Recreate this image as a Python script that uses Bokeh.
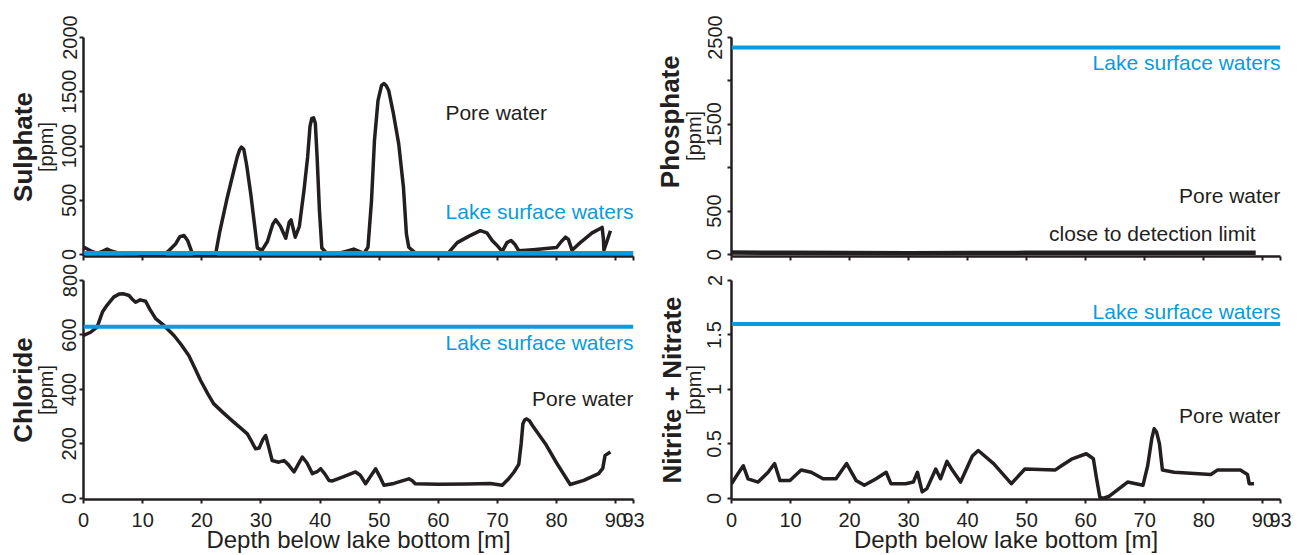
from bokeh.plotting import figure
from bokeh.models import Range1d, FixedTicker, LinearAxis, Span, Label, CustomJSTickFormatter
from bokeh.layouts import row, column
from bokeh.embed import file_html
from bokeh.resources import INLINE

FONT = "Liberation Sans"
INK = "#231f20"
BLUE = "#0a9bdc"

# ---------------- data ----------------
X_TICKS = [0, 10, 20, 30, 40, 50, 60, 70, 80, 90, 93]
X_LIMITS = [0, 93]

sulphate_depth = [0, 1.2, 2.3, 3.2, 4.0, 4.8, 6, 9, 10.5, 12, 13.5, 14.5, 15.6, 16.3, 17.0, 17.6,
                  18.4, 19.5, 21, 22.3, 23.0, 24.2, 25.4, 26.0, 26.4, 26.7, 27.1, 27.6, 28.3, 29.4,
                  30.2, 31.1, 32.0, 32.5, 33.3, 34.2, 34.8, 35.1, 35.8, 36.5, 37.3, 37.9, 38.3,
                  38.6, 38.9, 39.2, 39.5, 39.9, 40.3, 41, 43, 44.5, 45.7, 46.6, 47.4, 48.1, 48.7,
                  49.2, 49.8, 50.4, 50.8, 51.2, 51.6, 52.4, 53.3, 54.1, 54.6, 55.0, 56, 60, 61.7,
                  63.2, 65.2, 67.1, 68.2, 69.1, 70.0, 70.8, 71.6, 72.3, 73.0, 73.6, 76, 80, 80.8,
                  81.5, 82.0, 82.6, 84, 86, 87.7, 87.9, 88.0, 88.5, 89.1]
sulphate_ppm = [70, 35, 10, 30, 50, 30, 12, 10, -5, -10, -8, 40, 100, 165, 175, 130,
                10, -10, -12, -8, 200, 500, 770, 900, 965, 990, 970, 820, 550, 60,
                40, 120, 280, 320, 260, 150, 300, 320, 160, 260, 600, 900, 1180,
                1255, 1260, 1210, 900, 400, 60, 20, 10, 30, 50, 30, 10, 67, 498,
                1051, 1420, 1558, 1575, 1555, 1512, 1300, 1020, 620, 190, 67, 20, 15, 15,
                110, 170, 220, 200, 130, 80, 30, 110, 130, 90, 35, 45, 65, 120,
                160, 140, 40, 110, 200, 250, 150, 40, 120, 220]

chloride_depth = [0, 1.2, 2.3, 3.2, 4.0, 5.1, 6.0, 6.8, 7.7, 8.3, 8.8, 9.6, 10.5, 11.2, 12.2, 13.6,
                  15.3, 16.5, 17.8, 18.8, 19.8, 21.0, 22.0, 23.6, 25.4, 26.5, 27.7, 28.4, 29.1, 29.7,
                  30.3, 30.8, 31.3, 31.9, 33.0, 33.9, 34.6, 35.6, 36.3, 37.0, 37.8, 38.7, 39.5, 40.1,
                  40.8, 41.5, 42.1, 44, 46, 46.8, 47.7, 48.5, 49.4, 50.1, 50.8, 52.5, 55, 55.6, 56.1,
                  60, 65, 68.8, 70.8, 71.8, 72.8, 73.6, 74.0, 74.3, 74.6, 74.9, 75.4, 76.0, 78.1,
                  80.0, 82.3, 84.6, 87.1, 87.8, 88.0, 88.2, 89.1]
chloride_ppm = [598, 610, 629, 684, 710, 739, 750, 751, 745, 730, 720, 729, 724, 695, 660, 635,
                598, 565, 525, 480, 433, 385, 348, 315, 280, 260, 237, 210, 182, 185,
                215, 231, 190, 139, 133, 139, 125, 97, 125, 152, 130, 91, 98, 109,
                90, 66, 64, 80, 97, 85, 54, 80, 109, 80, 48, 55, 72, 65, 54,
                52, 53, 55, 48, 70, 97, 125, 200, 274, 288, 292, 285, 265, 201,
                130, 51, 66, 91, 110, 135, 158, 170]

phosphate_depth = [0, 10, 20, 30, 40, 50, 60, 70, 80, 88.8]
phosphate_ppm = [25, 20, 18, 15, 18, 20, 22, 20, 22, 20]

nitrate_depth = [0, 1.0, 2.0, 2.8, 4.5, 6.2, 7.3, 8.2, 9.9, 11.8, 13.5, 15.5, 17.7, 19.5, 21.1,
                 22.5, 24.5, 26.2, 27.0, 29.5, 30.8, 31.5, 32.3, 33.1, 34.6, 35.4, 36.5, 37.4,
                 38.8, 40.8, 41.8, 44.4, 47.4, 49.7, 54.8, 55.9, 57.6, 60.1, 61.3, 61.8, 62.4,
                 62.9, 64.0, 67.1, 69.7, 70.5, 71.2, 71.6, 72.0, 72.5, 73.0, 75.0, 81.2, 82.3,
                 86.2, 87.4, 87.7, 88.5]
nitrate_ppm = [0.135, 0.22, 0.30, 0.18, 0.15, 0.24, 0.32, 0.165, 0.165, 0.26, 0.24, 0.18, 0.18,
               0.32, 0.165, 0.12, 0.18, 0.24, 0.135, 0.135, 0.15, 0.24, 0.06, 0.09, 0.27, 0.18,
               0.34, 0.26, 0.15, 0.39, 0.44, 0.32, 0.135, 0.27, 0.26, 0.30, 0.36, 0.41, 0.364,
               0.195, 0.012, 0.0, 0.02, 0.15, 0.12, 0.30, 0.55, 0.64, 0.61, 0.50, 0.26, 0.24,
               0.22, 0.26, 0.26, 0.22, 0.135, 0.135]

lake_sulphate = 15
lake_chloride = 630
lake_phosphate = 2385
lake_nitrate = 1.6

sulphate_ticks = [0, 500, 1000, 1500, 2000]
chloride_ticks = [0, 200, 400, 600, 800]
phosphate_ticks = [0, 500, 1000, 1500, 2000, 2500]
nitrate_ticks = [0, 0.5, 1, 1.5, 2]


def panel(width, height, mbl, mbr, mbt, mbb, y_limits, y_ticks, title, y_fmt,
          bottom_labels, tick_standoff, unit_standoff, title_standoff):
    p = figure(width=width, height=height, x_range=Range1d(*X_LIMITS),
               y_range=Range1d(*y_limits), output_backend="svg", toolbar_location=None,
               min_border_left=mbl, min_border_right=mbr, min_border_top=mbt,
               min_border_bottom=mbb)
    p.grid.visible = False
    p.outline_line_color = None
    p.background_fill_color = "white"
    p.border_fill_color = "white"

    for ax in (p.xaxis[0], p.yaxis[0]):
        ax.axis_line_color = INK
        ax.axis_line_width = 2.5
        ax.major_tick_line_color = INK
        ax.major_tick_line_width = 2
        ax.major_tick_in = 0
        ax.major_tick_out = 4
        ax.minor_tick_line_color = None
        ax.major_label_text_font = FONT
        ax.major_label_text_font_size = "20px"
        ax.major_label_text_color = INK
        ax.axis_label_text_font = FONT
        ax.axis_label_text_color = INK
        ax.axis_label_text_font_style = "normal"

    xa = p.xaxis[0]
    xa.ticker = FixedTicker(ticks=X_TICKS)
    if bottom_labels:
        xa.major_label_standoff = 9
        xa.axis_label = "Depth below lake bottom [m]"
        xa.axis_label_text_font_size = "24px"
        xa.axis_label_standoff = -4
    else:
        xa.formatter = CustomJSTickFormatter(code="return ''")
        xa.major_label_text_font_size = "1px"
        xa.major_label_standoff = 0

    ya = p.yaxis[0]
    ya.ticker = FixedTicker(ticks=y_ticks)
    ya.formatter = CustomJSTickFormatter(code=y_fmt)
    ya.major_label_orientation = "vertical"
    ya.major_label_standoff = tick_standoff
    ya.axis_label = title[1]
    ya.axis_label_text_font_size = "20px"
    ya.axis_label_standoff = unit_standoff

    outer = LinearAxis(ticker=FixedTicker(ticks=[]), axis_label=title[0],
                       axis_line_color=None, major_tick_line_color=None,
                       minor_tick_line_color=None, major_tick_out=0, major_tick_in=0,
                       major_label_standoff=0, axis_label_standoff=title_standoff,
                       axis_label_text_font=FONT, axis_label_text_font_size="26px",
                       axis_label_text_font_style="bold", axis_label_text_color=INK)
    p.add_layout(outer, "left")
    return p


def note(p, x, y, text, color, align="right"):
    p.add_layout(Label(x=x, y=y, text=text, text_align=align, text_baseline="middle",
                       text_font=FONT, text_font_size="21px", text_color=color))


def lake(p, level):
    p.add_layout(Span(location=level, dimension="width", line_color=BLUE, line_width=4))


PLAIN = "return String(tick)"
PHOS = "return (tick == 1000 || tick == 2000) ? '' : String(tick)"

NB = "\u00a0"

# top-left: sulphate
p1 = panel(651, 262, 83, 18, 37, 6, (-18, 2000), sulphate_ticks, ("Sulphate", "[ppm]"),
           PLAIN, False, 3, 3, -6)
p1.line(sulphate_depth, sulphate_ppm, line_color=INK, line_width=3.5, line_join="round")
lake(p1, lake_sulphate)
note(p1, 61.2, 1309, "Pore water", INK, "left")
note(p1, 93, 399, "Lake surface waters", BLUE)

# bottom-left: chloride
p3 = panel(651, 293, 83, 18, 18, 56, (-4, 800), chloride_ticks, ("Chloride", "[ppm]"),
           PLAIN, True, 3, 3, -6)
p3.line(chloride_depth, chloride_ppm, line_color=INK, line_width=3.5, line_join="round")
lake(p3, lake_chloride)
note(p3, 93, 574, "Lake surface waters", BLUE)
note(p3, 93, 366, "Pore water", INK)

# top-right: phosphate
p2 = panel(647, 262, 77, 18, 37, 6, (-22, 2500), phosphate_ticks,
           (NB * 7 + "Phosphate", NB * 4 + "[ppm]"), PHOS, False, 6, 0, -5)
p2.line(phosphate_depth, phosphate_ppm, line_color=INK, line_width=4.5, line_join="round")
lake(p2, lake_phosphate)
note(p2, 93, 2215, "Lake surface waters", BLUE)
note(p2, 93, 680, "Pore water", INK)
note(p2, 88.8, 242, "close to detection limit", INK)

# bottom-right: nitrite + nitrate
p4 = panel(647, 293, 77, 18, 18, 56, (-0.01, 2), nitrate_ticks, ("Nitrite + Nitrate", "[ppm]"),
           PLAIN, True, 6, 0, -7)
p4.line(nitrate_depth, nitrate_ppm, line_color=INK, line_width=3.5, line_join="round")
lake(p4, lake_nitrate)
note(p4, 93, 1.718, "Lake surface waters", BLUE)
note(p4, 93, 0.761, "Pore water", INK)

layout = row(column(p1, p3), column(p2, p4))

with open("out.html", "w") as f:
    f.write(file_html(layout, INLINE))
